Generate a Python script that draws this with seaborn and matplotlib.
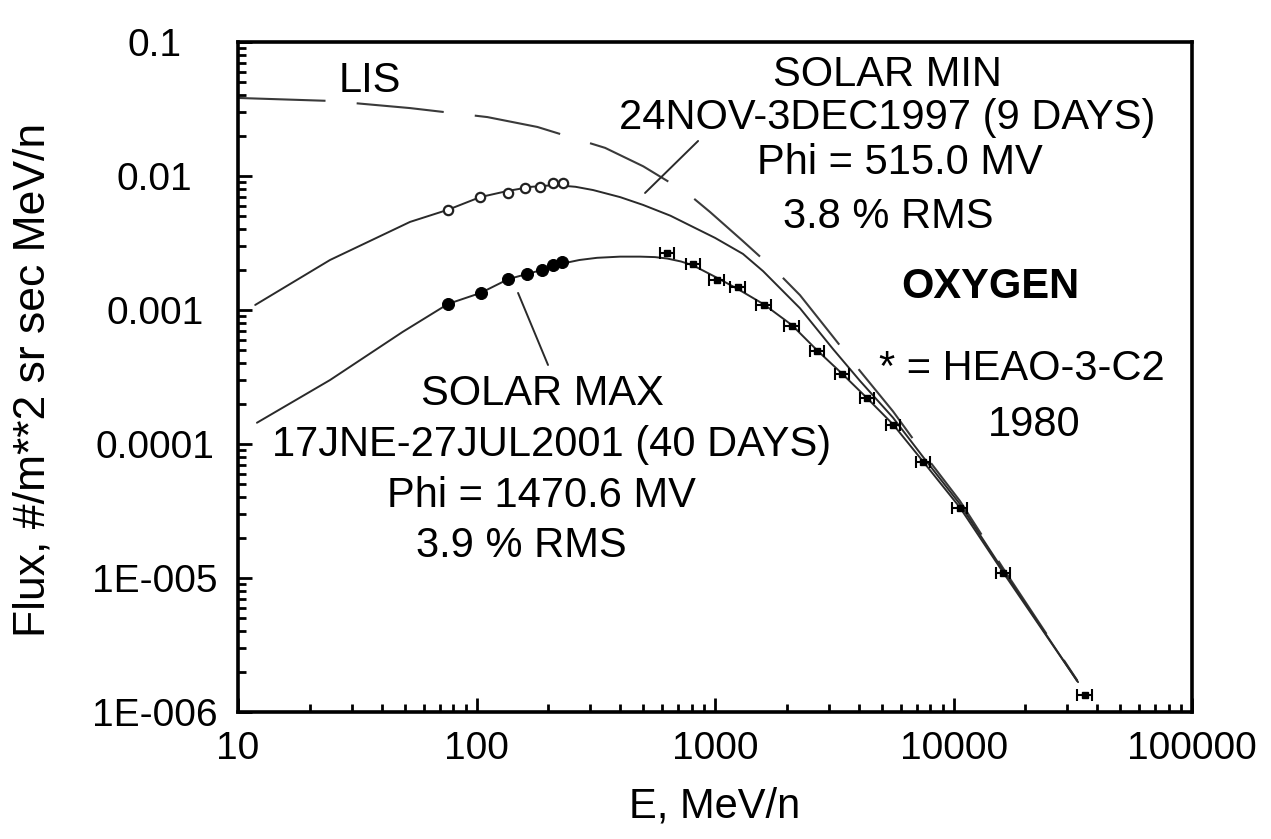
"""
Oxygen cosmic-ray spectra at solar minimum and maximum (log-log).
"""

import numpy as np
import matplotlib
matplotlib.use("Agg")
import matplotlib.pyplot as plt
import seaborn as sns

# ---- data ----
# model curve, solar minimum (Phi = 515.0 MV)
min_curve_e = [11.8, 24.3, 52.6, 76, 103.5, 136, 170, 213, 260, 308, 400, 499,
               650, 809, 1000, 1309, 1589, 2270, 3126, 4056, 5575, 7450, 10640,
               16140, 33000]
min_curve_flux = [1.09e-3, 2.36e-3, 4.54e-3, 5.6e-3, 6.95e-3, 7.75e-3, 8.3e-3,
                  8.55e-3, 8.3e-3, 7.85e-3, 6.95e-3, 6.08e-3, 5.05e-3, 4.16e-3,
                  3.45e-3, 2.62e-3, 1.95e-3, 1.03e-3, 5.1e-4, 2.95e-4, 1.57e-4,
                  8.0e-5, 3.55e-5, 1.14e-5, 1.7e-6]

# model curve, solar maximum (Phi = 1470.6 MV)
max_curve_e = [12.0, 24.3, 49, 76, 104, 136, 188, 229, 270, 320, 400, 485, 560,
               630, 720, 809, 1018, 1248, 1603, 2102, 2678, 3407, 4337, 5575,
               7450, 10640, 16140, 33270]
max_curve_flux = [1.44e-4, 3.0e-4, 6.86e-4, 1.11e-3, 1.34e-3, 1.70e-3, 1.99e-3,
                  2.22e-3, 2.36e-3, 2.45e-3, 2.5e-3, 2.5e-3, 2.48e-3, 2.42e-3,
                  2.3e-3, 2.15e-3, 1.74e-3, 1.43e-3, 1.1e-3, 7.7e-4, 5.0e-4,
                  3.35e-4, 2.2e-4, 1.4e-4, 7.4e-5, 3.35e-5, 1.1e-5, 1.67e-6]

# local interstellar spectrum
lis_e = [10, 24.3, 52.6, 111, 180, 254, 346, 500, 764, 953, 1300, 1837, 2270,
         3126, 4056, 5575, 7450, 10640, 16140, 33000]
lis_flux = [0.0382, 0.0363, 0.0321, 0.0275, 0.0232, 0.0192, 0.0162, 0.0118,
            7.46e-3, 5.38e-3, 3.3e-3, 1.89e-3, 1.29e-3, 6.3e-4, 3.5e-4,
            1.75e-4, 8.6e-5, 3.75e-5, 1.18e-5, 1.72e-6]

# measured points
min_pts_e = [76, 103.5, 136, 160, 185, 210, 231]
min_pts_flux = [5.57e-3, 6.97e-3, 7.46e-3, 8.13e-3, 8.28e-3, 8.87e-3, 8.87e-3]

max_pts_e = [76, 104, 136, 163, 188, 210, 229]
max_pts_flux = [1.11e-3, 1.34e-3, 1.70e-3, 1.86e-3, 1.99e-3, 2.17e-3, 2.28e-3]

heao_e = [630, 809, 1018, 1248, 1603, 2102, 2678, 3407, 4337, 5575, 7450,
          10640, 16140, 35560]
heao_flux = [2.66e-3, 2.20e-3, 1.67e-3, 1.49e-3, 1.09e-3, 7.6e-4, 4.95e-4,
             3.33e-4, 2.20e-4, 1.39e-4, 7.3e-5, 3.33e-5, 1.09e-5, 1.34e-6]

x_ticks = [10, 100, 1000, 10000, 100000]
x_tick_labels = ["10", "100", "1000", "10000", "100000"]
y_ticks = [1e-6, 1e-5, 1e-4, 1e-3, 1e-2, 1e-1]
y_tick_labels = ["1E-006", "1E-005", "0.0001", "0.001", "0.01", "0.1"]

# ---- style ----
sns.set_style("ticks")
plt.rcParams['font.family'] = ['Liberation Sans', 'DejaVu Sans']

LINE = "#2a2a2a"
TXT = 30

fig = plt.figure(figsize=(12.71, 8.39), dpi=100)
ax = fig.add_axes([0.1873, 0.1514, 0.7506, 0.7986])
ax.set_xscale("log")
ax.set_yscale("log")

sns.lineplot(x=lis_e, y=lis_flux, ax=ax, color="#3a3a3a", lw=1.5,
             linestyle=(0, (42, 15)), estimator=None, sort=False)
sns.lineplot(x=min_curve_e, y=min_curve_flux, ax=ax, color=LINE, lw=1.4,
             estimator=None, sort=False)
sns.lineplot(x=max_curve_e, y=max_curve_flux, ax=ax, color=LINE, lw=1.4,
             estimator=None, sort=False)

sns.scatterplot(x=min_pts_e, y=min_pts_flux, ax=ax, marker="o", s=45,
                facecolor="white", edgecolor="#222222", linewidth=1.6, zorder=4)
sns.scatterplot(x=max_pts_e, y=max_pts_flux, ax=ax, marker="o", s=75,
                color="black", edgecolor="black", zorder=4)

heao_e_arr = np.array(heao_e)
ax.errorbar(heao_e, heao_flux, xerr=heao_e_arr * 0.07, fmt="s", ms=5,
            color="black", ecolor="black", elinewidth=1.5, capsize=4,
            capthick=1.5, zorder=4)

# ---- axes ----
ax.set_xlim(10, 100000)
ax.set_ylim(1e-6, 0.1)
ax.set_xticks(x_ticks)
ax.set_xticklabels(x_tick_labels)
ax.set_yticks(y_ticks)
ax.set_yticklabels(y_tick_labels)
ax.xaxis.set_minor_locator(matplotlib.ticker.LogLocator(base=10, subs=np.arange(2, 10)))
ax.yaxis.set_minor_locator(matplotlib.ticker.LogLocator(base=10, subs=np.arange(2, 10)))
ax.xaxis.set_minor_formatter(matplotlib.ticker.NullFormatter())
ax.yaxis.set_minor_formatter(matplotlib.ticker.NullFormatter())

ax.tick_params(which="both", direction="in", top=False, right=False,
               width=2.0, color="black", labelcolor="black", labelsize=28)
ax.tick_params(which="major", length=10)
ax.tick_params(which="minor", length=6)
ax.tick_params(axis="x", which="major", pad=14)
ax.tick_params(axis="y", which="major", pad=60)
plt.setp(ax.get_yticklabels(), ha="center")

for sp in ax.spines.values():
    sp.set_linewidth(2.6)
    sp.set_color("black")
    sp.set_visible(True)

ax.set_xlabel("E, MeV/n", fontsize=TXT, labelpad=14, color="black")
ax.set_ylabel("Flux, #/m**2 sr sec MeV/n", fontsize=32, color="black")
ax.yaxis.label.set_va("center")
ax.yaxis.set_label_coords(-0.215, 0.495)

# ---- annotations ----
def note(x, y, s, **kw):
    ax.text(x, y, s, transform=ax.transAxes, ha="center", va="center",
            fontsize=TXT, color="black", **kw)

note(0.1384, 0.9418, "LIS")
note(0.6803, 0.9507, "SOLAR MIN")
note(0.6803, 0.8866, "24NOV-3DEC1997 (9 DAYS)")
note(0.6939, 0.8194, "Phi = 515.0 MV")
note(0.6813, 0.7388, "3.8 % RMS")
note(0.7883, 0.6343, "OXYGEN", fontweight="bold")
note(0.8218, 0.5119, "* = HEAO-3-C2")
note(0.8344, 0.4284, "1980")
note(0.3187, 0.4746, "SOLAR MAX")
note(0.3281, 0.3985, "17JNE-27JUL2001 (40 DAYS)")
note(0.3176, 0.3224, "Phi = 1470.6 MV")
note(0.2966, 0.2478, "3.9 % RMS")

leader = dict(arrowstyle="-", lw=1.4, color=LINE, shrinkA=0, shrinkB=0)
ax.annotate("", xy=(0.4266, 0.7746), xytext=(0.4822, 0.8522),
            xycoords="axes fraction", textcoords="axes fraction", arrowprops=leader)
ax.annotate("", xy=(0.2935, 0.6254), xytext=(0.3249, 0.5179),
            xycoords="axes fraction", textcoords="axes fraction", arrowprops=leader)

fig.savefig("out.png", dpi=100)
